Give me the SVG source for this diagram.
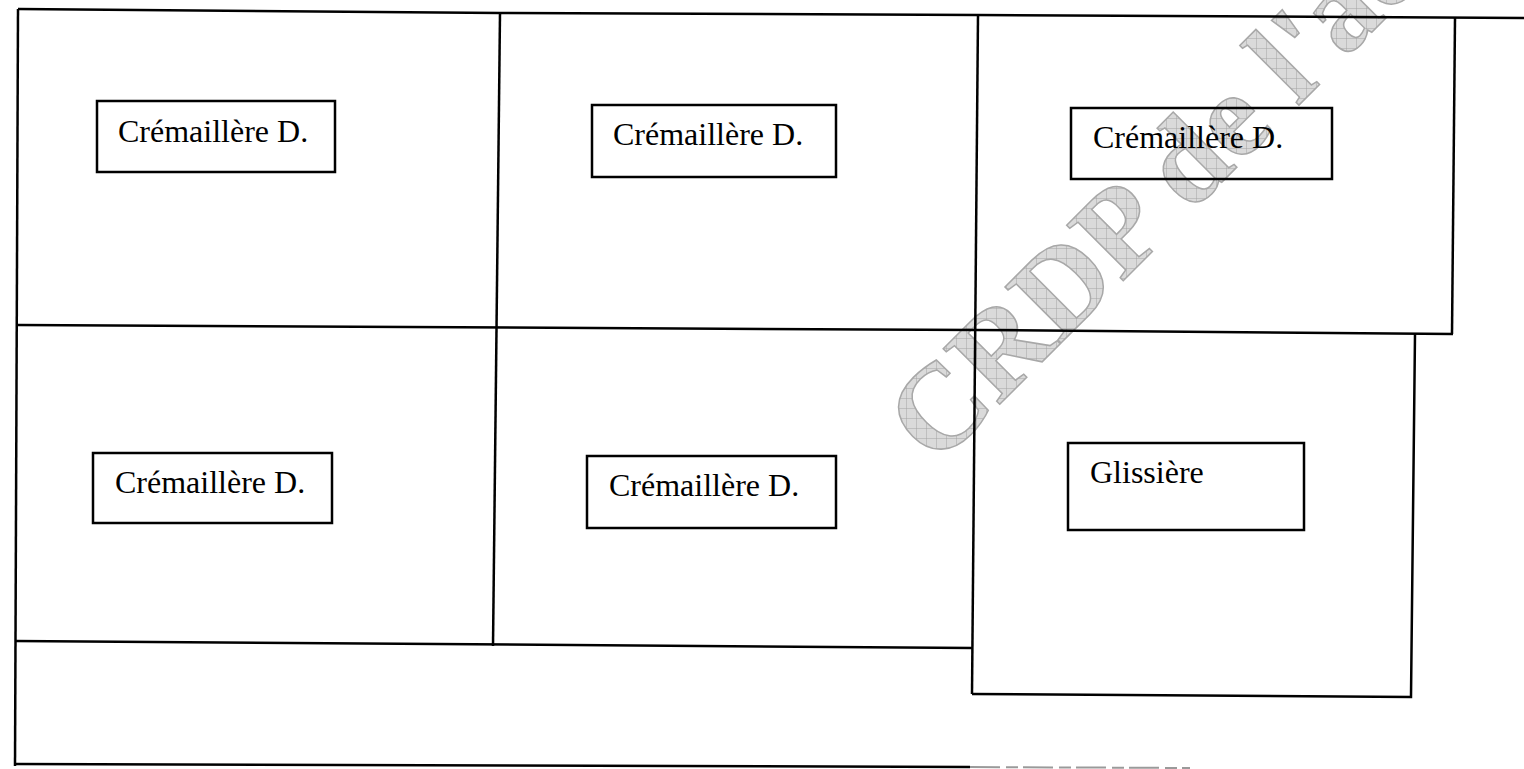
<svg xmlns="http://www.w3.org/2000/svg" width="1524" height="769" viewBox="0 0 1524 769">
<style>
.ln{fill:none;stroke:#000;stroke-width:2.5;stroke-linejoin:miter}
.fd{fill:none;stroke:#9a9a9a;stroke-width:2;stroke-dasharray:30 6 12 5}
.box{fill:#fff;stroke:#000;stroke-width:2.5}
.lbl{font-family:"Liberation Serif","Times New Roman",serif;font-size:32px;fill:#000}
.wm{font-family:"Liberation Serif","Times New Roman",serif;font-size:121px;font-weight:bold;fill:url(#hatch);stroke:#a8a8a8;stroke-width:1.5}
</style>
<defs>
<pattern id="hatch" width="10" height="10" patternUnits="userSpaceOnUse" patternTransform="rotate(45)">
<rect width="10" height="10" fill="#dadada"/>
<path d="M0,0H10M0,0V10" stroke="#a4a4a4" stroke-width="1"/>
</pattern>
</defs>
<rect width="1524" height="769" fill="#fff"/>
<g id="watermark">
<text class="wm" transform="translate(936,468) rotate(-45)">CRDP de l'ac</text>
</g>
<g id="connectors">
<polyline class="ln" points="18,9 500,13 977,15 1524,18"/>
<polyline class="ln" points="18,9 15,766"/>
<polyline class="ln" points="15,764 970,767"/>
<line class="fd" x1="970" y1="767" x2="1190" y2="768"/>
<polyline class="ln" points="500,13 493,646"/>
<polyline class="ln" points="18,325 976,330 1453,334"/>
<polyline class="ln" points="15,641 973,648"/>
<polyline class="ln" points="978,15 972,694"/>
<polyline class="ln" points="1455,18 1452,334"/>
<polyline class="ln" points="1415,334 1411,697 972,694"/>
</g>
<g id="node1"><rect class="box" x="97" y="101" width="238" height="71"/><text class="lbl" x="118" y="142">Crémaillère D.</text></g>
<g id="node2"><rect class="box" x="592" y="105" width="244" height="72"/><text class="lbl" x="613" y="145">Crémaillère D.</text></g>
<g id="node3"><rect class="box" x="1071" y="108" width="261" height="71" fill-opacity="0"/><text class="lbl" x="1093" y="148">Crémaillère D.</text></g>
<g id="node4"><rect class="box" x="93" y="453" width="239" height="70"/><text class="lbl" x="115" y="493">Crémaillère D.</text></g>
<g id="node5"><rect class="box" x="587" y="456" width="249" height="72"/><text class="lbl" x="609" y="496">Crémaillère D.</text></g>
<g id="node6"><rect class="box" x="1068" y="443" width="236" height="87"/><text class="lbl" x="1090" y="483">Glissière</text></g>
</svg>
